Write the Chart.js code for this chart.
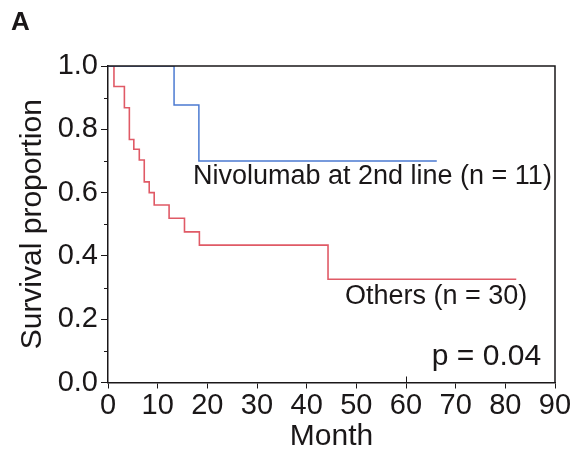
<!DOCTYPE html>
<html>
<head>
<meta charset="utf-8">
<script src="https://cdn.jsdelivr.net/npm/chart.js@4/dist/chart.umd.min.js"></script>
<style>
  html, body { margin: 0; padding: 0; background: #fff; }
  #wrap { width: 584px; height: 451px; }
</style>
</head>
<body>
<div id="wrap"><canvas id="km"></canvas></div>
<script>
// Kaplan-Meier curves
const nivoMonths = [0, 13.3, 18.3, 66.2];
const nivoSurv = [1, 0.877, 0.70, 0.70];
const otherMonths = [0, 1.2, 3.3, 4.3, 5.2, 6.3, 7.3, 8.3, 9.3, 12.3, 15.4, 18.4, 44.3, 82.2];
const otherSurv = [1, 0.935, 0.868, 0.768, 0.737, 0.703, 0.634, 0.6, 0.561, 0.519, 0.476, 0.434, 0.326, 0.326];
const xTicks = [0, 10, 20, 30, 40, 50, 60, 70, 80, 90];
const yTicks = [0, 0.2, 0.4, 0.6, 0.8, 1.0];
const yMinor = [0.1, 0.3, 0.5, 0.7, 0.9];

const ink = "#1a1718";
const FONT = "'Liberation Sans', Arial, sans-serif";

function pts(xs, ys) {
  return xs.map((x, i) => ({ x: x, y: ys[i] }));
}

// box, minor ticks and the text labels
const extras = {
  id: "extras",
  afterDraw(chart) {
    const ctx = chart.ctx;
    const a = chart.chartArea;
    const xs = chart.scales.x;
    const ys = chart.scales.y;
    ctx.save();
    ctx.strokeStyle = ink;
    ctx.lineWidth = 1.5;
    ctx.beginPath();
    ctx.moveTo(a.left, a.top);
    ctx.lineTo(a.right, a.top);
    ctx.lineTo(a.right, a.bottom);
    ctx.stroke();
    ctx.lineWidth = 1;
    yMinor.forEach((v) => {
      const py = Math.round(ys.getPixelForValue(v)) + 0.5;
      ctx.beginPath();
      ctx.moveTo(a.left - 4, py);
      ctx.lineTo(a.left, py);
      ctx.stroke();
    });
    // small inward mark on the month axis
    const px = Math.round(xs.getPixelForValue(60)) + 0.5;
    ctx.beginPath();
    ctx.moveTo(px, a.bottom);
    ctx.lineTo(px, a.bottom - 6);
    ctx.stroke();
    ctx.fillStyle = ink;
    ctx.textBaseline = "middle";
    ctx.textAlign = "left";
    ctx.font = "27px " + FONT;
    ctx.fillText("Nivolumab at 2nd line (n = 11)", xs.getPixelForValue(17.1), ys.getPixelForValue(0.652));
    ctx.fillText("Others (n = 30)", xs.getPixelForValue(47.7), ys.getPixelForValue(0.27));
    ctx.font = "30px " + FONT;
    ctx.fillText("p = 0.04", xs.getPixelForValue(65.2), ys.getPixelForValue(0.08));
    ctx.font = "bold 26px " + FONT;
    ctx.fillText("A", 11, 23);
    ctx.restore();
  },
};

new Chart(document.getElementById("km"), {
  type: "line",
  data: {
    datasets: [
      {
        label: "Nivolumab at 2nd line",
        data: pts(nivoMonths, nivoSurv),
        borderColor: "#4b7ad1",
        borderWidth: 1.5,
        stepped: true,
        pointRadius: 0,
        fill: false,
      },
      {
        label: "Others",
        data: pts(otherMonths, otherSurv),
        borderColor: "#e05a66",
        borderWidth: 1.6,
        stepped: true,
        pointRadius: 0,
        fill: false,
      },
    ],
  },
  options: {
    responsive: true,
    maintainAspectRatio: false,
    animation: false,
    layout: { padding: { left: 0, right: 29, top: 66, bottom: 0 } },
    plugins: {
      legend: { display: false },
      tooltip: { enabled: false },
    },
    scales: {
      x: {
        type: "linear",
        min: 0,
        max: 90,
        afterBuildTicks: (s) => { s.ticks = xTicks.map((v) => ({ value: v })); },
        afterFit: (s) => { s.height = 68.5; },
        border: { color: ink, width: 1.5 },
        grid: { drawOnChartArea: false, drawTicks: true, tickLength: 6, color: ink },
        ticks: { color: ink, padding: 0, maxRotation: 0, font: { family: FONT, size: 29 } },
        title: { display: true, text: "Month", color: ink, padding: { top: 0, bottom: -4 }, font: { family: FONT, size: 30 } },
      },
      y: {
        min: 0,
        max: 1,
        afterBuildTicks: (s) => { s.ticks = yTicks.map((v) => ({ value: v })); },
        afterFit: (s) => { s.width = 108; },
        border: { color: ink, width: 1.5 },
        grid: { drawOnChartArea: false, drawTicks: true, tickLength: 7, color: ink },
        ticks: { color: ink, padding: 3, font: { family: FONT, size: 29 }, callback: (v) => v.toFixed(1) },
        title: { display: true, text: "Survival proportion", color: ink, padding: { top: 15, bottom: 0 }, font: { family: FONT, size: 30 } },
      },
    },
  },
  plugins: [extras],
});
</script>
</body>
</html>
